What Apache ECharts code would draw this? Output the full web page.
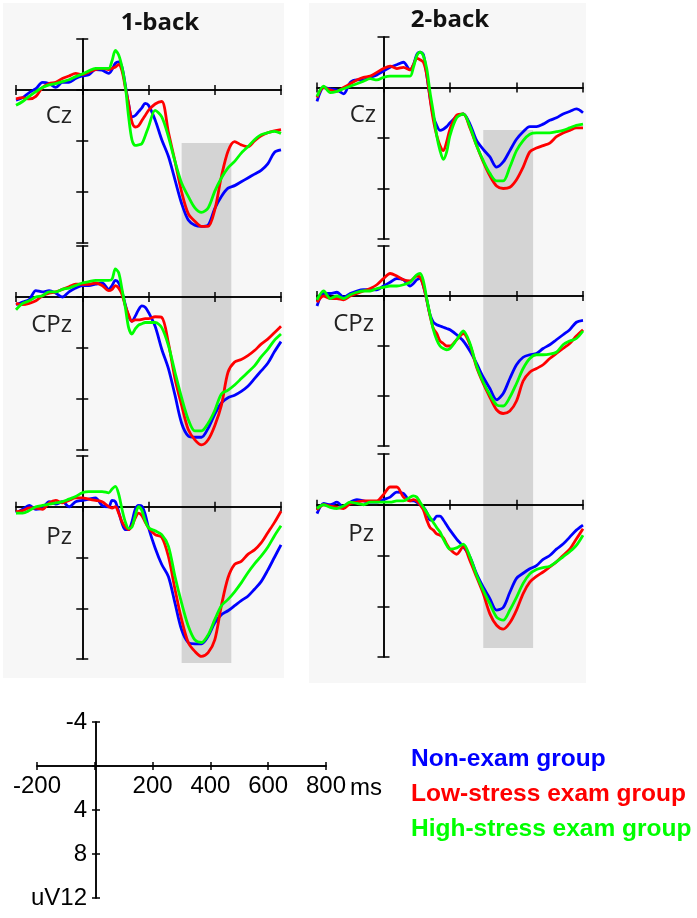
<!DOCTYPE html>
<html><head><meta charset="utf-8">
<script src="https://cdn.jsdelivr.net/npm/echarts@6/dist/echarts.min.js"></script>
<style>html,body{margin:0;padding:0;background:#fff}#c{width:697px;height:918px}</style>
</head><body><div id="c"></div>
<script>
// ---------- DATA ----------
const times = [-200,-180,-160,-140,-120,-100,-80,-60,-40,-20,0,20,40,60,80,90,100,110,120,130,140,150,160,170,180,190,200,220,240,260,280,300,320,340,360,380,400,420,440,460,480,500,520,540,560,580,600];
const groups = ['Non-exam group','Low-stress exam group','High-stress exam group'];
const conditions = ['1-back','2-back'];
const channels = ['Cz','CPz','Pz'];
const shadeWindow = [300, 450]; // ms
const scaleXRange = [-200, 800];
const scaleYRange = [-4, 12];

const back1_Cz_non  = [0.8,0.6,0.2,-0.1,-0.6,-0.5,-0.2,-0.6,-0.6,-0.9,-1.1,-1.2,-1.6,-1.55,-1.3,-1.6,-2.1,-2.2,-1.8,-0.4,1.1,2.1,2.0,1.7,1.4,1.05,1.2,2.35,3.9,5.2,7.05,8.9,10.2,10.6,10.7,10.6,9.3,8.35,7.7,7.5,7.2,6.9,6.6,6.3,5.8,4.9,4.7];
const back1_Cz_low  = [0.7,0.6,0.7,0.5,-0.2,-0.5,-0.6,-0.9,-1.1,-1.3,-1.2,-1.4,-1.6,-1.7,-1.6,-1.7,-1.8,-2.0,-1.5,-0.2,1.1,2.5,2.9,2.8,2.4,2.0,1.6,1.1,0.9,3.3,5.6,8.0,9.7,10.3,10.7,10.7,9.4,6.8,4.8,4.05,4.3,4.45,4.0,3.6,3.35,3.2,3.1];
const back1_Cz_high = [1.2,0.9,0.5,0.13,-0.2,-0.4,-0.5,-0.65,-0.8,-1.05,-1.25,-1.5,-1.7,-1.7,-1.7,-2.3,-3.1,-2.75,-1.8,-0.3,2.1,3.9,4.35,4.3,4.2,3.6,2.9,1.6,2.1,3.65,5.6,7.3,8.35,9.25,9.6,9.25,7.95,6.9,6.1,5.6,4.95,4.45,3.9,3.5,3.35,3.25,3.4];

const back2_Cz_non  = [1.1,0.0,0.1,0.2,0.5,-0.4,-0.6,-0.6,-0.8,-1.0,-1.3,-1.6,-1.8,-2.0,-1.4,-1.8,-2.6,-2.8,-2.6,-1.0,0.8,2.3,3.0,3.4,3.3,3.1,2.8,2.3,2.1,2.9,4.2,4.9,5.5,6.3,5.9,5.0,4.1,3.5,3.1,3.1,2.9,2.6,2.4,2.1,1.9,1.7,2.0];
const back2_Cz_low  = [0.8,0.0,0.2,0.3,0.0,-0.3,-0.6,-0.8,-0.9,-1.2,-1.5,-1.7,-1.5,-1.6,-1.4,-1.8,-2.3,-2.2,-2.0,-1.0,0.9,2.6,3.8,4.6,5.0,4.3,3.3,2.2,2.1,3.2,4.6,5.9,7.0,7.8,8.0,7.9,7.3,6.3,5.1,4.8,4.6,4.4,3.9,3.6,3.4,3.2,3.2];
const back2_Cz_high = [0.7,-0.1,0.4,0.3,0.1,-0.1,-0.3,-0.5,-0.7,-0.6,-0.8,-0.9,-0.9,-0.9,-0.9,-1.6,-2.5,-2.8,-2.5,-1.5,0.4,2.0,3.8,5.0,5.7,5.1,3.8,2.4,2.1,3.1,4.6,5.8,6.8,7.4,7.4,6.3,5.0,4.2,3.7,3.6,3.6,3.6,3.5,3.4,3.2,3.0,2.9];

const back1_CPz_non  = [0.6,0.4,0.2,-0.5,-0.4,-0.5,-0.3,0.0,-0.4,-0.7,-0.9,-0.9,-1.0,-1.1,-0.6,-0.9,-1.3,-1.1,-0.4,0.6,1.5,1.9,1.5,1.0,0.7,0.8,1.2,2.3,4.1,5.6,7.7,9.9,10.9,11.0,11.0,10.3,9.2,8.3,7.9,7.7,7.4,7.0,6.4,5.8,5.2,4.3,3.5];
const back1_CPz_low  = [0.5,0.6,0.5,0.3,-0.1,-0.3,-0.4,-0.6,-0.8,-1.0,-1.0,-1.0,-1.1,-0.9,-0.5,-0.6,-0.9,-0.7,-0.2,0.7,1.4,1.9,1.8,1.8,1.75,1.7,1.7,1.55,1.6,3.6,6.4,8.5,10.4,11.2,11.6,11.2,10.1,8.5,5.9,5.1,4.9,4.6,4.2,3.7,3.3,2.8,2.3];
const back1_CPz_high = [1.0,0.5,0.3,0.0,-0.1,-0.4,-0.4,-0.6,-0.7,-0.9,-1.1,-1.2,-1.3,-1.3,-1.3,-1.4,-2.2,-1.9,-0.6,0.8,2.4,2.9,2.5,2.2,2.1,2.0,2.0,2.0,2.4,3.8,5.9,7.9,9.6,10.5,10.5,9.9,8.9,7.6,7.3,6.9,6.4,5.9,5.4,4.7,4.1,3.4,2.9];

const back2_CPz_non  = [0.8,-0.2,-0.2,-0.3,0.1,-0.2,-0.4,-0.5,-0.5,-0.5,-0.8,-1.1,-1.4,-1.3,-0.8,-1.0,-1.3,-1.4,-0.8,0.3,1.5,2.1,2.3,2.4,2.5,2.6,2.7,3.1,3.6,4.4,5.4,6.5,7.4,8.3,7.8,6.6,5.5,4.9,4.7,4.6,4.2,3.9,3.5,3.1,2.7,2.1,1.95];
const back2_CPz_low  = [0.5,0.0,0.2,0.2,0.3,0.0,-0.2,-0.4,-0.6,-0.9,-1.4,-1.8,-1.6,-1.3,-1.2,-1.4,-1.6,-1.5,-0.8,0.3,1.6,2.6,3.0,3.6,3.8,4.0,4.0,3.5,3.0,3.9,5.7,7.0,8.1,9.1,9.4,9.2,8.4,6.8,6.1,5.8,5.5,5.0,4.6,4.2,3.8,3.2,2.7];
const back2_CPz_high = [0.3,-0.4,0.2,0.0,0.2,-0.1,-0.3,-0.4,-0.4,-0.6,-0.7,-0.8,-0.8,-0.9,-1.1,-1.4,-1.7,-1.8,-1.2,0.2,1.5,2.7,3.5,4.0,4.2,4.3,4.2,3.5,2.8,3.8,5.6,6.9,7.9,8.7,8.8,8.1,7.0,5.8,5.0,4.7,4.7,4.65,4.5,3.9,3.6,3.4,2.8];

const back1_Pz_non  = [0.5,0.2,-0.1,0.2,0.1,-0.4,-0.2,-0.4,0.0,-0.4,-0.5,-0.6,-0.7,-0.1,0.0,-0.5,-0.4,0.4,1.3,1.8,1.8,1.2,0.2,-0.1,-0.05,0.6,1.65,3.25,4.55,5.5,7.6,9.7,10.7,10.8,10.8,10.2,9.15,8.5,8.2,7.8,7.4,7.05,6.5,5.9,5.0,4.0,3.0];
const back1_Pz_low  = [0.4,0.3,0.1,0.1,0.2,-0.3,-0.5,-0.3,-0.5,-0.7,-0.7,-0.6,-0.5,-0.4,0.0,0.1,0.0,0.5,1.2,1.6,1.8,1.5,0.9,0.5,0.7,1.2,1.65,2.2,2.4,3.9,6.5,8.9,10.7,11.4,11.8,11.5,10.5,7.8,5.6,4.55,4.3,3.75,3.4,2.85,2.05,1.25,0.35];
const back1_Pz_high = [0.5,0.5,0.3,0.0,-0.1,-0.2,-0.3,-0.4,-0.6,-0.8,-1.1,-1.2,-1.2,-1.2,-1.1,-1.4,-1.6,-1.0,0.2,1.2,1.7,1.6,0.7,0.0,0.3,1.1,1.65,1.9,2.2,3.1,5.5,7.6,9.4,10.5,10.7,10.1,8.9,7.8,7.3,6.7,6.0,5.2,4.5,3.9,3.2,2.3,1.5];

const back2_Pz_non  = [0.7,-0.1,0.0,-0.2,0.2,-0.2,-0.4,-0.3,-0.2,-0.2,-0.4,-0.6,-1.0,-0.9,-0.3,-0.3,-0.2,0.0,0.2,0.6,1.2,1.2,0.9,0.9,1.2,1.6,2.0,2.7,3.3,4.1,5.45,6.5,7.4,8.3,8.1,6.9,5.8,5.4,5.05,4.8,4.3,4.0,3.5,3.1,2.55,2.0,1.6];
const back2_Pz_low  = [0.4,0.0,0.1,0.2,0.3,-0.1,-0.2,-0.3,-0.3,-0.3,-0.8,-1.4,-1.4,-0.6,-0.3,-0.4,-0.3,0.0,0.4,1.2,1.8,2.0,2.3,2.4,2.6,3.1,3.5,3.9,3.3,4.4,5.7,7.0,8.6,9.5,9.8,9.3,8.3,7.0,6.1,5.65,5.3,4.9,4.5,4.0,3.5,2.7,1.9];
const back2_Pz_high = [0.3,0.0,0.2,0.3,0.1,-0.2,-0.1,0.0,-0.2,-0.2,-0.2,-0.2,-0.3,-0.3,-0.6,-0.7,-0.6,-0.2,0.2,0.6,1.0,1.4,1.8,2.15,2.7,3.2,3.5,3.4,3.1,4.1,5.55,6.75,7.8,8.85,9.1,8.3,7.3,6.2,5.45,5.1,4.95,4.85,4.5,4.1,3.7,3.2,2.4];

// ---------- STYLE / LAYOUT ----------
const groupColors = ['#0000ff','#ff0000','#00ff00'];
const panels = [
  {cond:0, ch:0, values:[back1_Cz_non, back1_Cz_low, back1_Cz_high],   grid:{left:16, top:39,  width:265, height:204}, label:{x:72, y:116}},
  {cond:0, ch:1, values:[back1_CPz_non, back1_CPz_low, back1_CPz_high],grid:{left:16, top:246, width:265, height:204}, label:{x:72, y:325}},
  {cond:0, ch:2, values:[back1_Pz_non, back1_Pz_low, back1_Pz_high],   grid:{left:16, top:456, width:265, height:203}, label:{x:72, y:537}},
  {cond:1, ch:0, values:[back2_Cz_non, back2_Cz_low, back2_Cz_high],   grid:{left:317, top:37, width:266, height:202}, label:{x:376, y:115}},
  {cond:1, ch:1, values:[back2_CPz_non, back2_CPz_low, back2_CPz_high],grid:{left:317, top:246, width:266, height:200}, label:{x:374, y:324}},
  {cond:1, ch:2, values:[back2_Pz_non, back2_Pz_low, back2_Pz_high],   grid:{left:317, top:454, width:266, height:203}, label:{x:374, y:534}}
];
const columnBg = [{left:3, top:3, width:281, height:675},{left:309, top:3, width:277, height:680}];
const shadeGrid = [{left:16, top:143, width:265, height:520},{left:317, top:130, width:266, height:518}];
const titlePos = [{x:160, y:23},{x:450, y:20}];
const scaleXGrid = {left:37, top:700, width:289, height:66};   // x axis sits on this grid's bottom edge
const scaleYGrid = {left:96, top:722, width:230, height:176};  // y axis sits on this grid's left edge

const grids=[], xAxes=[], yAxes=[], series=[], graphics=[];
const lineSt = {color:'#000', width:1.5};
function addGrid(g){ grids.push(Object.assign({outerBoundsMode:'none', containLabel:false}, g)); return grids.length-1; }
function addX(a){ xAxes.push(a); return xAxes.length-1; }
function addY(a){ yAxes.push(a); return yAxes.length-1; }

// column backgrounds
columnBg.forEach(l=>{
  const gi = addGrid(Object.assign({show:true, backgroundColor:'#f7f7f7', borderWidth:0, z:0}, l));
  addX({gridIndex:gi, show:false, type:'value', min:0, max:1});
  addY({gridIndex:gi, show:false, type:'value', min:0, max:1});
});
// shaded time window
shadeGrid.forEach(l=>{
  const gi = addGrid(Object.assign({show:false}, l));
  const xi = addX({gridIndex:gi, show:false, type:'value', min:times[0], max:times[times.length-1]});
  const yi = addY({gridIndex:gi, show:false, type:'value', min:0, max:1});
  series.push({type:'line', xAxisIndex:xi, yAxisIndex:yi, data:[], symbol:'none', silent:true,
    markArea:{silent:true, z:1, itemStyle:{color:'#d4d4d4', borderWidth:0}, data:[[{xAxis:shadeWindow[0]},{xAxis:shadeWindow[1]}]]}});
});
// panels
panels.forEach(p=>{
  const gi = addGrid(Object.assign({show:false}, p.grid));
  const xb = {gridIndex:gi, type:'value', min:times[0], max:times[times.length-1], interval:200, position:'bottom', z:2,
    axisLine:{show:true, onZero:true, lineStyle:lineSt}, axisLabel:{show:false}, splitLine:{show:false}};
  const xi = addX(Object.assign({}, xb, {axisTick:{show:true, length:5, inside:false, lineStyle:lineSt}}));
  addX(Object.assign({}, xb, {axisTick:{show:true, length:5, inside:true, lineStyle:lineSt}}));
  const yb = {gridIndex:gi, type:'value', inverse:true, min:-4, max:12, interval:4, position:'left', z:2,
    axisLine:{show:true, onZero:true, lineStyle:lineSt}, axisLabel:{show:false}, splitLine:{show:false}};
  const yi = addY(Object.assign({}, yb, {axisTick:{show:true, length:6, inside:false, lineStyle:lineSt}}));
  addY(Object.assign({}, yb, {axisTick:{show:true, length:6, inside:true, lineStyle:lineSt}}));
  p.values.forEach((vals, k)=>{
    series.push({name:groups[k], type:'line', xAxisIndex:xi, yAxisIndex:yi, z:3, silent:true,
      data: times.map((t,i)=>[t, vals[i]]), symbol:'none', smooth:0.3,
      lineStyle:{width:2.8, color:groupColors[k]}, itemStyle:{color:groupColors[k]}});
  });
  graphics.push({type:'text', x:p.label.x, y:p.label.y, z:10,
    style:{text:channels[p.ch], font:'24px "Open Sans"', fill:'#222', align:'right', verticalAlign:'middle', textAlign:'right', textVerticalAlign:'middle'}});
});
conditions.forEach((c,i)=>{
  graphics.push({type:'text', x:titlePos[i].x, y:titlePos[i].y, z:10,
    style:{text:c, font:'bold 24px "Open Sans"', fill:'#111', align:'center', verticalAlign:'middle', textAlign:'center', textVerticalAlign:'middle'}});
});
// scale bar
{
  const lbl = {fontSize:24, fontFamily:'"Liberation Sans", Arial, sans-serif', color:'#000'};
  const gx = addGrid(Object.assign({show:false}, scaleXGrid));
  addY({gridIndex:gx, show:false, type:'value', min:0, max:1});
  const xb = {gridIndex:gx, type:'value', min:scaleXRange[0], max:scaleXRange[1], interval:200, position:'bottom',
    axisLine:{show:true, onZero:false, lineStyle:lineSt}, splitLine:{show:false}};
  addX(Object.assign({}, xb, {axisTick:{show:true, length:4, inside:false, lineStyle:lineSt},
    axisLabel:Object.assign({show:true, margin:8, formatter:v=> v===0?'':String(v)}, lbl),
    name:'ms', nameLocation:'end', nameGap:22, nameTextStyle:Object.assign({verticalAlign:'top', padding:[10,0,0,0]}, lbl)}));
  addX(Object.assign({}, xb, {axisTick:{show:true, length:4, inside:true, lineStyle:lineSt}, axisLabel:{show:false}}));

  const gy = addGrid(Object.assign({show:false}, scaleYGrid));
  addX({gridIndex:gy, show:false, type:'value', min:0, max:1});
  const yb = {gridIndex:gy, type:'value', inverse:true, min:scaleYRange[0], max:scaleYRange[1], interval:4, position:'left',
    axisLine:{show:true, onZero:false, lineStyle:lineSt}, splitLine:{show:false}};
  addY(Object.assign({}, yb, {axisTick:{show:true, length:4, inside:false, lineStyle:lineSt},
    axisLabel:Object.assign({show:true, margin:9, formatter:v=> v===0?'': (v===scaleYRange[1]?'uV'+v:String(v))}, lbl)}));
  addY(Object.assign({}, yb, {axisTick:{show:true, length:4, inside:true, lineStyle:lineSt}, axisLabel:{show:false}}));
}

const chart = echarts.init(document.getElementById('c'), null, {renderer:'canvas', width:697, height:918});
chart.setOption({
  animation:false,
  backgroundColor:'#ffffff',
  grid:grids, xAxis:xAxes, yAxis:yAxes, series:series,
  legend:{orient:'vertical', left:400, top:742, itemWidth:0, itemHeight:0, itemGap:10, selectedMode:false,
    data:groups.map((g,i)=>({name:g, textStyle:{color:groupColors[i]}})),
    textStyle:{fontSize:24.5, fontWeight:'bold', fontFamily:'"Liberation Sans", Arial, sans-serif', lineHeight:24}},
  graphic:graphics
});
</script></body></html>
